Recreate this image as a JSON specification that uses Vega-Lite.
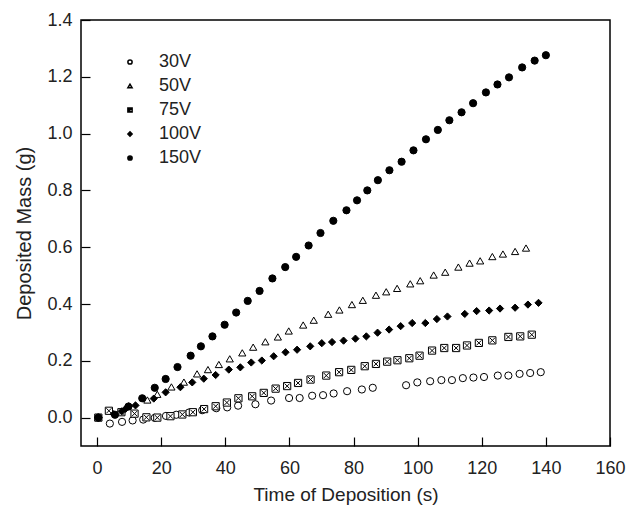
{
  "$schema": "https://vega.github.io/schema/vega-lite/v6.json",
  "width": 529,
  "height": 426,
  "autosize": "none",
  "padding": {"left": 81, "top": 20, "right": 17, "bottom": 61},
  "background": "white",
  "config": {
    "font": "Liberation Sans",
    "view": {"stroke": "black", "strokeWidth": 1.5},
    "axis": {"labelFont": "Liberation Sans", "titleFont": "Liberation Sans", "labelColor": "#222", "titleColor": "#222", "labelFontSize": 18, "titleFontSize": 20, "titleFontWeight": "normal", "grid": false, "domain": false, "tickColor": "black", "tickWidth": 1.2}
  },
  "data": {"values": [
      {"t": 0.4, "m": 0.0, "s": "30V"},
      {"t": 4.0, "m": -0.021, "s": "30V"},
      {"t": 7.8, "m": -0.015, "s": "30V"},
      {"t": 11.1, "m": -0.010, "s": "30V"},
      {"t": 14.4, "m": -0.007, "s": "30V"},
      {"t": 18.0, "m": -0.001, "s": "30V"},
      {"t": 21.5, "m": 0.006, "s": "30V"},
      {"t": 24.7, "m": 0.010, "s": "30V"},
      {"t": 28.7, "m": 0.018, "s": "30V"},
      {"t": 32.8, "m": 0.026, "s": "30V"},
      {"t": 37.2, "m": 0.033, "s": "30V"},
      {"t": 40.6, "m": 0.036, "s": "30V"},
      {"t": 44.0, "m": 0.042, "s": "30V"},
      {"t": 49.4, "m": 0.047, "s": "30V"},
      {"t": 54.3, "m": 0.060, "s": "30V"},
      {"t": 59.9, "m": 0.069, "s": "30V"},
      {"t": 63.2, "m": 0.069, "s": "30V"},
      {"t": 67.1, "m": 0.077, "s": "30V"},
      {"t": 70.5, "m": 0.079, "s": "30V"},
      {"t": 73.8, "m": 0.085, "s": "30V"},
      {"t": 78.0, "m": 0.093, "s": "30V"},
      {"t": 82.6, "m": 0.099, "s": "30V"},
      {"t": 86.0, "m": 0.105, "s": "30V"},
      {"t": 96.4, "m": 0.114, "s": "30V"},
      {"t": 99.9, "m": 0.124, "s": "30V"},
      {"t": 103.9, "m": 0.128, "s": "30V"},
      {"t": 107.4, "m": 0.132, "s": "30V"},
      {"t": 110.7, "m": 0.132, "s": "30V"},
      {"t": 114.1, "m": 0.139, "s": "30V"},
      {"t": 117.4, "m": 0.141, "s": "30V"},
      {"t": 120.7, "m": 0.143, "s": "30V"},
      {"t": 125.0, "m": 0.148, "s": "30V"},
      {"t": 128.3, "m": 0.148, "s": "30V"},
      {"t": 131.8, "m": 0.154, "s": "30V"},
      {"t": 135.1, "m": 0.157, "s": "30V"},
      {"t": 138.4, "m": 0.160, "s": "30V"},

      {"t": 0.4, "m": 0.0, "s": "50V"},
      {"t": 15.7, "m": 0.062, "s": "50V"},
      {"t": 18.8, "m": 0.082, "s": "50V"},
      {"t": 23.2, "m": 0.108, "s": "50V"},
      {"t": 27.1, "m": 0.125, "s": "50V"},
      {"t": 31.2, "m": 0.154, "s": "50V"},
      {"t": 34.6, "m": 0.169, "s": "50V"},
      {"t": 38.0, "m": 0.187, "s": "50V"},
      {"t": 41.4, "m": 0.207, "s": "50V"},
      {"t": 45.3, "m": 0.228, "s": "50V"},
      {"t": 48.7, "m": 0.248, "s": "50V"},
      {"t": 52.5, "m": 0.267, "s": "50V"},
      {"t": 56.4, "m": 0.284, "s": "50V"},
      {"t": 59.8, "m": 0.305, "s": "50V"},
      {"t": 64.3, "m": 0.326, "s": "50V"},
      {"t": 67.6, "m": 0.343, "s": "50V"},
      {"t": 72.1, "m": 0.364, "s": "50V"},
      {"t": 75.6, "m": 0.379, "s": "50V"},
      {"t": 79.5, "m": 0.398, "s": "50V"},
      {"t": 82.9, "m": 0.413, "s": "50V"},
      {"t": 87.0, "m": 0.431, "s": "50V"},
      {"t": 90.2, "m": 0.443, "s": "50V"},
      {"t": 93.6, "m": 0.455, "s": "50V"},
      {"t": 97.7, "m": 0.471, "s": "50V"},
      {"t": 100.8, "m": 0.482, "s": "50V"},
      {"t": 105.0, "m": 0.502, "s": "50V"},
      {"t": 108.6, "m": 0.512, "s": "50V"},
      {"t": 112.7, "m": 0.530, "s": "50V"},
      {"t": 116.2, "m": 0.544, "s": "50V"},
      {"t": 119.5, "m": 0.552, "s": "50V"},
      {"t": 123.3, "m": 0.567, "s": "50V"},
      {"t": 126.6, "m": 0.576, "s": "50V"},
      {"t": 130.4, "m": 0.585, "s": "50V"},
      {"t": 133.8, "m": 0.597, "s": "50V"},

      {"t": 0.4, "m": 0.0, "s": "75V"},
      {"t": 3.7, "m": 0.024, "s": "75V"},
      {"t": 7.6, "m": 0.019, "s": "75V"},
      {"t": 11.7, "m": 0.014, "s": "75V"},
      {"t": 15.4, "m": 0.001, "s": "75V"},
      {"t": 18.8, "m": 0.0, "s": "75V"},
      {"t": 22.9, "m": 0.005, "s": "75V"},
      {"t": 26.6, "m": 0.011, "s": "75V"},
      {"t": 29.9, "m": 0.019, "s": "75V"},
      {"t": 33.4, "m": 0.030, "s": "75V"},
      {"t": 37.0, "m": 0.040, "s": "75V"},
      {"t": 40.5, "m": 0.053, "s": "75V"},
      {"t": 44.1, "m": 0.068, "s": "75V"},
      {"t": 48.4, "m": 0.075, "s": "75V"},
      {"t": 52.0, "m": 0.087, "s": "75V"},
      {"t": 55.7, "m": 0.102, "s": "75V"},
      {"t": 59.3, "m": 0.111, "s": "75V"},
      {"t": 62.7, "m": 0.122, "s": "75V"},
      {"t": 66.6, "m": 0.134, "s": "75V"},
      {"t": 71.5, "m": 0.148, "s": "75V"},
      {"t": 75.5, "m": 0.160, "s": "75V"},
      {"t": 79.3, "m": 0.168, "s": "75V"},
      {"t": 83.5, "m": 0.181, "s": "75V"},
      {"t": 87.0, "m": 0.189, "s": "75V"},
      {"t": 90.5, "m": 0.197, "s": "75V"},
      {"t": 93.7, "m": 0.202, "s": "75V"},
      {"t": 97.4, "m": 0.209, "s": "75V"},
      {"t": 100.6, "m": 0.218, "s": "75V"},
      {"t": 104.5, "m": 0.236, "s": "75V"},
      {"t": 108.3, "m": 0.245, "s": "75V"},
      {"t": 112.0, "m": 0.245, "s": "75V"},
      {"t": 115.4, "m": 0.254, "s": "75V"},
      {"t": 119.1, "m": 0.263, "s": "75V"},
      {"t": 123.3, "m": 0.272, "s": "75V"},
      {"t": 128.3, "m": 0.284, "s": "75V"},
      {"t": 132.0, "m": 0.286, "s": "75V"},
      {"t": 135.6, "m": 0.292, "s": "75V"},

      {"t": 0.4, "m": 0.0, "s": "100V"},
      {"t": 5.2, "m": 0.012, "s": "100V"},
      {"t": 7.7, "m": 0.022, "s": "100V"},
      {"t": 8.9, "m": 0.031, "s": "100V"},
      {"t": 9.9, "m": 0.040, "s": "100V"},
      {"t": 12.0, "m": 0.043, "s": "100V"},
      {"t": 17.7, "m": 0.067, "s": "100V"},
      {"t": 21.4, "m": 0.089, "s": "100V"},
      {"t": 26.0, "m": 0.107, "s": "100V"},
      {"t": 29.7, "m": 0.124, "s": "100V"},
      {"t": 33.3, "m": 0.137, "s": "100V"},
      {"t": 37.0, "m": 0.150, "s": "100V"},
      {"t": 41.1, "m": 0.169, "s": "100V"},
      {"t": 44.7, "m": 0.177, "s": "100V"},
      {"t": 48.1, "m": 0.194, "s": "100V"},
      {"t": 51.4, "m": 0.201, "s": "100V"},
      {"t": 55.1, "m": 0.216, "s": "100V"},
      {"t": 58.8, "m": 0.230, "s": "100V"},
      {"t": 62.4, "m": 0.239, "s": "100V"},
      {"t": 66.5, "m": 0.251, "s": "100V"},
      {"t": 70.1, "m": 0.262, "s": "100V"},
      {"t": 73.3, "m": 0.266, "s": "100V"},
      {"t": 76.9, "m": 0.271, "s": "100V"},
      {"t": 80.6, "m": 0.278, "s": "100V"},
      {"t": 84.0, "m": 0.286, "s": "100V"},
      {"t": 87.5, "m": 0.299, "s": "100V"},
      {"t": 91.1, "m": 0.310, "s": "100V"},
      {"t": 94.7, "m": 0.322, "s": "100V"},
      {"t": 98.3, "m": 0.333, "s": "100V"},
      {"t": 102.4, "m": 0.333, "s": "100V"},
      {"t": 106.0, "m": 0.347, "s": "100V"},
      {"t": 109.3, "m": 0.356, "s": "100V"},
      {"t": 114.7, "m": 0.365, "s": "100V"},
      {"t": 118.4, "m": 0.375, "s": "100V"},
      {"t": 122.3, "m": 0.377, "s": "100V"},
      {"t": 125.7, "m": 0.384, "s": "100V"},
      {"t": 130.4, "m": 0.387, "s": "100V"},
      {"t": 134.4, "m": 0.398, "s": "100V"},
      {"t": 137.7, "m": 0.404, "s": "100V"},

      {"t": 0.4, "m": 0.0, "s": "150V"},
      {"t": 5.6, "m": 0.010, "s": "150V"},
      {"t": 9.8, "m": 0.039, "s": "150V"},
      {"t": 14.1, "m": 0.068, "s": "150V"},
      {"t": 18.0, "m": 0.105, "s": "150V"},
      {"t": 21.4, "m": 0.136, "s": "150V"},
      {"t": 25.1, "m": 0.178, "s": "150V"},
      {"t": 29.2, "m": 0.218, "s": "150V"},
      {"t": 32.4, "m": 0.251, "s": "150V"},
      {"t": 36.0, "m": 0.286, "s": "150V"},
      {"t": 39.8, "m": 0.327, "s": "150V"},
      {"t": 43.4, "m": 0.370, "s": "150V"},
      {"t": 47.0, "m": 0.411, "s": "150V"},
      {"t": 50.7, "m": 0.446, "s": "150V"},
      {"t": 54.7, "m": 0.490, "s": "150V"},
      {"t": 58.7, "m": 0.530, "s": "150V"},
      {"t": 62.1, "m": 0.566, "s": "150V"},
      {"t": 66.0, "m": 0.606, "s": "150V"},
      {"t": 69.7, "m": 0.650, "s": "150V"},
      {"t": 73.7, "m": 0.693, "s": "150V"},
      {"t": 77.8, "m": 0.730, "s": "150V"},
      {"t": 81.1, "m": 0.765, "s": "150V"},
      {"t": 84.3, "m": 0.800, "s": "150V"},
      {"t": 87.6, "m": 0.836, "s": "150V"},
      {"t": 91.2, "m": 0.871, "s": "150V"},
      {"t": 95.0, "m": 0.901, "s": "150V"},
      {"t": 98.7, "m": 0.941, "s": "150V"},
      {"t": 102.6, "m": 0.980, "s": "150V"},
      {"t": 106.3, "m": 1.013, "s": "150V"},
      {"t": 109.9, "m": 1.047, "s": "150V"},
      {"t": 113.7, "m": 1.075, "s": "150V"},
      {"t": 117.3, "m": 1.107, "s": "150V"},
      {"t": 121.3, "m": 1.145, "s": "150V"},
      {"t": 124.9, "m": 1.173, "s": "150V"},
      {"t": 128.5, "m": 1.198, "s": "150V"},
      {"t": 132.6, "m": 1.233, "s": "150V"},
      {"t": 136.5, "m": 1.257, "s": "150V"},
      {"t": 140.0, "m": 1.276, "s": "150V"}
  ]},
  "mark": {"type": "point", "filled": true, "stroke": "black", "strokeWidth": 1, "size": 52, "opacity": 1},
  "encoding": {
    "x": {
      "field": "t", "type": "quantitative",
      "scale": {"domain": [-5, 160], "nice": false, "zero": false},
      "axis": {
        "title": "Time of Deposition (s)",
        "titleFontSize": 19,
        "tickCount": 8,
        "labelFlush": false,
        "tickSize": -9,
        "labelPadding": 22,
        "titlePadding": 8
      }
    },
    "y": {
      "field": "m", "type": "quantitative",
      "scale": {"domain": [-0.1, 1.4], "nice": false, "zero": false},
      "axis": {
        "title": "Deposited Mass (g)",
        "tickCount": 7,
        "format": ".1f",
        "labelFlush": false,
        "tickSize": -9,
        "labelPadding": 18,
        "titlePadding": 12
      }
    },
    "shape": {
      "field": "s", "type": "nominal",
      "scale": {
        "domain": ["30V", "50V", "75V", "100V", "150V"],
        "range": ["circle", "triangle-up", "M-1,-1H1V1H-1Z M-0.7,-0.7L0.7,0.7 M0.7,-0.7L-0.7,0.7", "diamond", "circle"]
      },
      "legend": {"title": null, "orient": "none", "legendX": 40, "legendY": 33, "labelFontSize": 18, "labelFont": "Liberation Sans", "labelColor": "#222", "symbolSize": 18, "labelOffset": 20, "rowPadding": 6, "padding": 0,
        "encode": {"symbols": {"update": {"stroke": {"value": "black"}, "strokeWidth": {"value": 0.8}}}}}
    },
    "fill": {
      "field": "s", "type": "nominal",
      "scale": {"domain": ["30V", "50V", "75V", "100V", "150V"], "range": ["white", "white", "white", "black", "black"]},
      "legend": {"title": null, "orient": "none", "legendX": 40, "legendY": 33, "labelFontSize": 18, "labelFont": "Liberation Sans", "labelColor": "#222", "symbolSize": 18, "labelOffset": 20, "rowPadding": 6, "padding": 0,
        "encode": {"symbols": {"update": {"stroke": {"value": "black"}, "strokeWidth": {"value": 0.8}}}}}
    }
  }
}
